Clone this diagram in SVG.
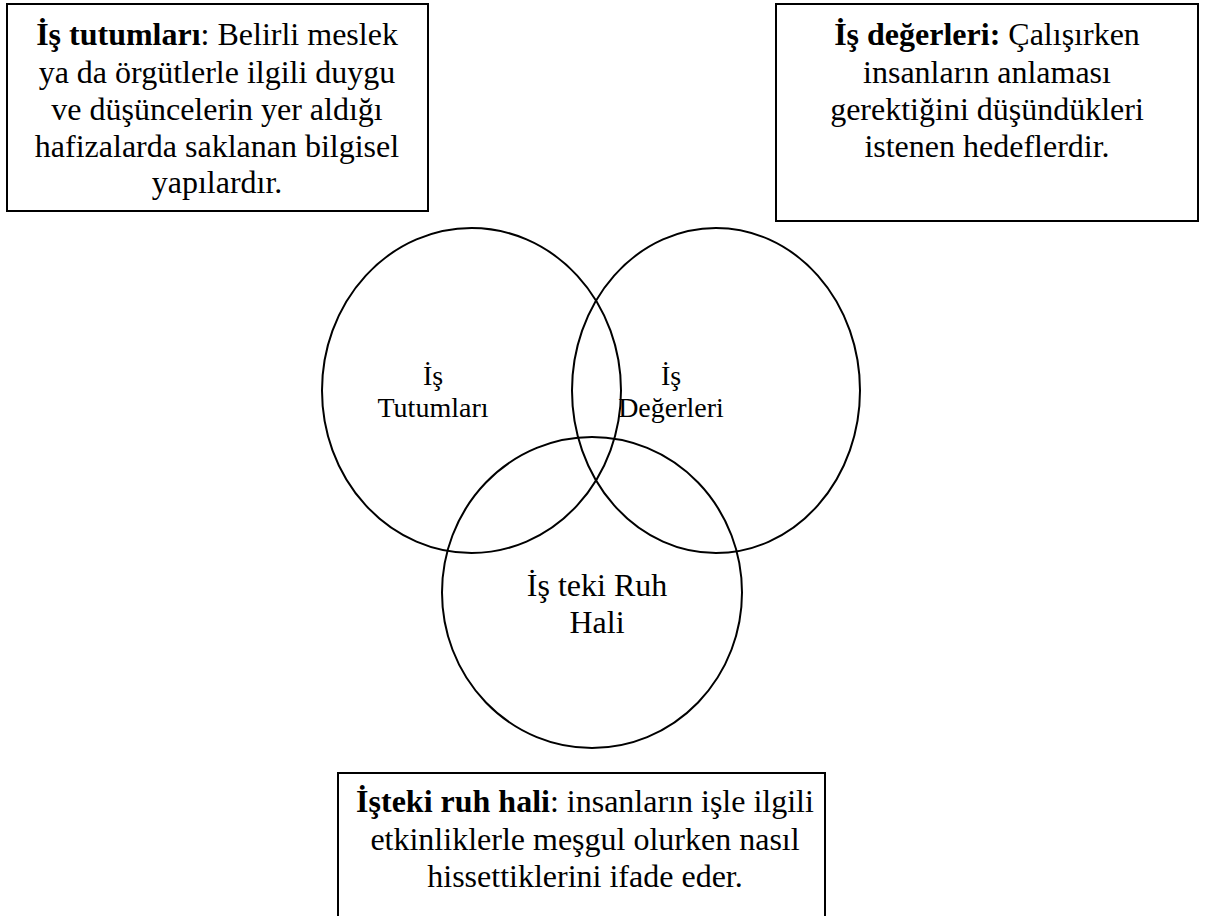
<svg xmlns="http://www.w3.org/2000/svg" width="1205" height="916" viewBox="0 0 1205 916">
<style>
.box{fill:#fff;stroke:#000;stroke-width:2}
.c{fill:none;stroke:#000;stroke-width:2}
.t{font-family:"Liberation Serif","Times New Roman",serif;font-size:32px;fill:#000;text-anchor:middle}
.l{font-family:"Liberation Serif","Times New Roman",serif;font-size:28px;fill:#000;text-anchor:middle}
.b{font-weight:bold}
</style>
<rect width="1205" height="916" fill="#fff"/>
<g id="box-tutum">
<rect class="box" x="7" y="4" width="421" height="207"/>
<text class="t" x="217" y="45"><tspan class="b">İş tutumları</tspan>: Belirli meslek</text>
<text class="t" x="217" y="83">ya da örgütlerle ilgili duygu</text>
<text class="t" x="217" y="120">ve düşüncelerin yer aldığı</text>
<text class="t" x="217" y="157">hafizalarda saklanan bilgisel</text>
<text class="t" x="217" y="193">yapılardır.</text>
</g>
<g id="box-deger">
<rect class="box" x="776" y="4" width="422" height="217"/>
<text class="t" x="987" y="45"><tspan class="b">İş değerleri:</tspan> Çalışırken</text>
<text class="t" x="987" y="83">insanların anlaması</text>
<text class="t" x="987" y="120">gerektiğini düşündükleri</text>
<text class="t" x="987" y="157">istenen hedeflerdir.</text>
</g>
<g id="circle-tutum">
<ellipse class="c" cx="471.5" cy="390.5" rx="149.5" ry="162.5"/>
<text class="l" x="433" y="385">İş</text>
<text class="l" x="433" y="417">Tutumları</text>
</g>
<g id="circle-deger">
<ellipse class="c" cx="716" cy="390.5" rx="144" ry="162.5"/>
<text class="l" x="671" y="385">İş</text>
<text class="l" x="671" y="417">Değerleri</text>
</g>
<g id="circle-ruh">
<ellipse class="c" cx="592" cy="592.5" rx="150" ry="155.5"/>
<text class="t" x="597" y="596">İş teki Ruh</text>
<text class="t" x="597" y="633">Hali</text>
</g>
<g id="box-ruh">
<rect class="box" x="338" y="773" width="487" height="150"/>
<text class="t" x="585" y="812"><tspan class="b">İşteki ruh hali</tspan>: insanların işle ilgili</text>
<text class="t" x="585" y="850">etkinliklerle meşgul olurken nasıl</text>
<text class="t" x="585" y="887">hissettiklerini ifade eder.</text>
</g>
<g id="connectors"/>
</svg>
